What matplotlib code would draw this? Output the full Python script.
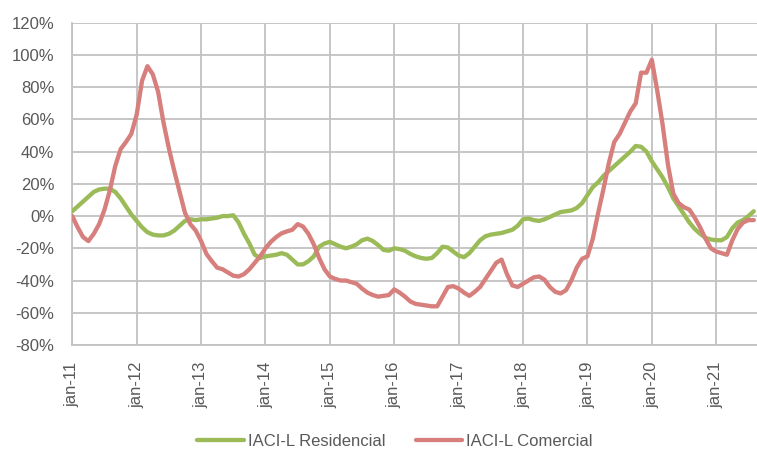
import matplotlib
matplotlib.use("Agg")
import matplotlib.pyplot as plt
import numpy as np

# Monthly series, jan-11 ... aug-21 (values in %)
residencial = [
    3, 6, 9, 12, 15, 16.5, 17, 17, 15, 11, 6, 1,
    -3, -7, -10, -11.5, -12, -12, -11, -9, -6, -3, -2, -2.5,
    -2, -2, -1.5, -1, 0, 0, 0.5, -4, -11, -17, -24, -26,
    -25, -24.5, -24, -23, -24, -27, -30, -30, -28, -25, -19, -17,
    -16, -17.5, -19, -20, -19, -17.5, -15, -14, -15.5, -18, -21, -21.5,
    -20, -20.5, -21.5, -23.5, -25, -26, -26.5, -26, -23, -19, -19.5, -22,
    -24.5, -25.5, -23, -19, -15, -12.5, -11.5, -11, -10.5, -9.5, -8.5, -6,
    -2, -1.5, -2.5, -3, -2, -0.5, 1, 2.5, 3, 3.5, 5, 8,
    13, 18, 21, 25, 28, 31, 34, 37, 40, 43.5, 43, 40,
    34, 29, 24, 18, 11, 6, 1, -4, -8, -11, -13.5, -14.5,
    -15, -15, -13, -7.5, -4, -2.5, 0, 3,
]
comercial = [
    0, -7, -13, -15.5, -11, -5, 4, 16, 31, 41.5, 46, 51,
    63, 84, 93, 88, 77, 58, 42, 28, 15, 2, -5, -9,
    -15.5, -23.5, -28, -32, -33, -35, -37, -37.5, -36, -33, -29, -25,
    -20, -16, -13, -10.7, -9.5, -8.5, -5, -6.5, -11, -17.5, -26, -33,
    -37.5, -39, -40, -40, -41, -42, -45, -47.5, -49, -50, -49.5, -49,
    -45.5, -47.5, -50, -53, -54.5, -55, -55.5, -56, -56, -50, -44, -43.5,
    -45, -47.5, -49.5, -47, -44, -39, -34, -29, -27, -36, -43, -44,
    -42, -40, -38, -37.5, -39.5, -44, -47, -48, -46, -40, -32, -26.5,
    -25, -14, 2, 17, 33, 46, 51, 58, 65, 70, 89, 89,
    97, 78, 57, 32, 14, 8, 5.5, 4, -1, -7, -14, -20,
    -22, -23, -24, -15, -8, -4, -2.5, -2.5,
]
year_labels = ["jan-11", "jan-12", "jan-13", "jan-14", "jan-15", "jan-16",
               "jan-17", "jan-18", "jan-19", "jan-20", "jan-21"]
series_names = ["IACI-L Residencial", "IACI-L Comercial"]
y_ticks = [-80, -60, -40, -20, 0, 20, 40, 60, 80, 100, 120]

GREEN = "#9BBB59"
RED = "#D67F7C"
GRID = "#c2c2c2"
TXT = "#595959"
FONT = "Liberation Sans"

fig = plt.figure(figsize=(7.57, 4.51), dpi=100)
ax = fig.add_axes([72.3 / 757, 1 - 345 / 451, (757 - 72.3) / 757, (345 - 22.7) / 451])

x = np.arange(len(residencial))
ax.plot(x, residencial, color=GREEN, lw=3.1, solid_capstyle="round",
        solid_joinstyle="round", label=series_names[0], zorder=3)
ax.plot(x, comercial, color=RED, lw=3.1, solid_capstyle="round",
        solid_joinstyle="round", label=series_names[1], zorder=4)

ax.set_xlim(0, 127.6)
ax.set_ylim(-80, 120)
ax.set_yticks(y_ticks)
ax.set_yticklabels([f"{v}%" for v in y_ticks], fontsize=12, color=TXT, family=FONT)
ax.set_xticks(np.arange(len(year_labels)) * 12)
ax.set_xticklabels(year_labels, rotation=90, fontsize=12, color=TXT, family=FONT)
ax.tick_params(axis="both", length=0)
ax.tick_params(axis="y", pad=13)
ax.tick_params(axis="x", pad=12)

ax.grid(True, color=GRID, lw=1.3, zorder=0)
ax.set_axisbelow(True)
for side in ["top", "right"]:
    ax.spines[side].set_visible(False)
for side in ["left", "bottom"]:
    ax.spines[side].set_color(GRID)
    ax.spines[side].set_linewidth(1.3)

leg = fig.legend(loc="center", bbox_to_anchor=(395 / 757, 1 - 441 / 451), ncol=2,
                 frameon=False, prop={"family": FONT, "size": 12},
                 handlelength=2.8, handletextpad=0.25, columnspacing=1.8)
for t in leg.get_texts():
    t.set_color(TXT)

fig.savefig("out.png", dpi=100)
